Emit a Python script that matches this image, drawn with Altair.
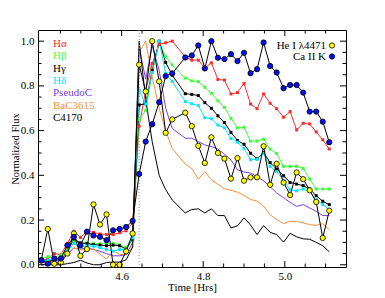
import altair as alt
import pandas as pd

# ---------------- data ----------------
times = [4.403, 4.419, 4.435, 4.451, 4.467, 4.483, 4.499, 4.515, 4.531, 4.547,
         4.563, 4.579, 4.595, 4.611, 4.627, 4.643, 4.659, 4.675, 4.692, 4.708,
         4.724, 4.756, 4.772, 4.788, 4.804, 4.820, 4.836, 4.852, 4.868, 4.884,
         4.900, 4.916, 4.932, 4.948, 4.964, 4.980, 4.997, 5.013, 5.029, 5.045,
         5.061, 5.077, 5.093, 5.109]

h_alpha = [0.020, 0.025, 0.050, 0.045, 0.095, 0.150, 0.122, 0.150, 0.145, 0.138, 0.135, 0.135, 0.143, 0.152, 0.185, 0.620, 0.780, 0.900, 0.985, 0.993, 1.000,
           0.930, 0.915, 0.915, 0.880, 0.903, 0.829, 0.826, 0.764, 0.770, 0.811, 0.719, 0.698, 0.764, 0.722, 0.698, 0.660, 0.685, 0.603, 0.633, 0.630, 0.594, 0.559, 0.518]
h_beta = [0.027, 0.036, 0.031, 0.045, 0.068, 0.107, 0.095, 0.098, 0.094, 0.094, 0.095, 0.096, 0.088, 0.078, 0.122, 0.650, 0.690, 0.860, 1.000, 0.930, 0.894,
          0.835, 0.823, 0.819, 0.794, 0.767, 0.733, 0.704, 0.655, 0.612, 0.615, 0.553, 0.553, 0.562, 0.517, 0.498, 0.440, 0.440, 0.440, 0.431, 0.383, 0.339, 0.339, 0.339]
h_gamma = [0.013, 0.018, 0.020, 0.024, 0.060, 0.115, 0.098, 0.095, 0.090, 0.088, 0.085, 0.088, 0.085, 0.070, 0.115, 0.715, 0.720, 0.870, 1.000, 0.905, 0.848,
           0.765, 0.762, 0.757, 0.725, 0.700, 0.666, 0.636, 0.592, 0.556, 0.539, 0.499, 0.474, 0.502, 0.457, 0.428, 0.398, 0.368, 0.361, 0.354, 0.339, 0.309, 0.284, 0.269]
h_delta = [0.015, 0.020, 0.025, 0.030, 0.060, 0.095, 0.080, 0.085, 0.083, 0.076, 0.068, 0.061, 0.068, 0.068, 0.120, 0.780, 0.720, 0.860, 1.000, 0.856, 0.820,
           0.730, 0.720, 0.712, 0.658, 0.653, 0.625, 0.612, 0.565, 0.548, 0.520, 0.470, 0.472, 0.499, 0.440, 0.417, 0.377, 0.336, 0.331, 0.339, 0.328, 0.291, 0.269, 0.247]
pseudo_c = [0.010, 0.010, 0.015, 0.020, 0.045, 0.075, 0.070, 0.076, 0.068, 0.060, 0.050, 0.040, 0.040, 0.045, 0.100, 0.970, 0.830, 0.980, 0.870, 0.700, 0.610,
            0.566, 0.566, 0.551, 0.536, 0.529, 0.517, 0.495, 0.469, 0.425, 0.415, 0.410, 0.395, 0.375, 0.350, 0.321, 0.300, 0.279, 0.261, 0.269, 0.254, 0.239, 0.220, 0.220]
bac3615 = [0.000, 0.005, 0.010, 0.015, 0.050, 0.075, 0.068, 0.064, 0.072, 0.048, 0.025, 0.064, 0.046, 0.046, 0.080, 0.950, 1.000, 0.840, 0.700, 0.600, 0.520,
           0.450, 0.430, 0.383, 0.417, 0.380, 0.360, 0.340, 0.333, 0.325, 0.310, 0.292, 0.285, 0.262, 0.224, 0.202, 0.184, 0.194, 0.194, 0.187, 0.180, 0.176, 0.184, 0.157]
c4170 = [0.000, 0.000, 0.000, 0.000, 0.005, 0.010, 0.020, 0.008, 0.000, 0.000, 0.010, 0.012, 0.012, 0.022, 0.080, 1.000, 0.740, 0.550, 0.400, 0.336, 0.290,
         0.232, 0.247, 0.250, 0.232, 0.250, 0.220, 0.220, 0.165, 0.174, 0.210, 0.178, 0.135, 0.175, 0.145, 0.135, 0.101, 0.141, 0.125, 0.116, 0.114, 0.100, 0.085, 0.058]
he_i_4471 = [0.020, 0.160, 0.005, 0.010, 0.050, 0.140, 0.040, 0.070, 0.270, 0.180, 0.225, 0.000, 0.000, 0.060, 0.140, 0.895, 0.775, 1.000, 0.820, 0.590, 0.650,
             0.680, 0.620, 0.532, 0.455, 0.570, 0.500, 0.475, 0.385, 0.477, 0.376, 0.391, 0.391, 0.530, 0.358, 0.452, 0.368, 0.312, 0.413, 0.383, 0.333, 0.281, 0.120, 0.242]
ca_ii_k = [0.020, 0.005, 0.028, 0.028, 0.087, 0.125, 0.087, 0.148, 0.131, 0.125, 0.110, 0.154, 0.160, 0.169, 0.196, 0.406, 0.551, 0.629, 0.727, 0.844, 0.856,
           0.927, 0.936, 0.981, 0.878, 1.000, 0.926, 0.920, 0.942, 0.911, 0.948, 0.857, 0.875, 0.994, 0.889, 0.860, 0.790, 0.804, 0.804, 0.770, 0.685, 0.685, 0.640, 0.548]

flare_onset = [4.643]

x_label_values = [4.6, 4.8, 5.0]
x_major_ticks = [4.6, 4.8, 5.0]
x_minor_ticks = [4.45, 4.5, 4.55, 4.65, 4.7, 4.75, 4.85, 4.9, 4.95, 5.05, 5.1]
y_major_ticks = [0.0, 0.2, 0.4, 0.6, 0.8, 1.0]
y_minor_ticks = [0.05, 0.1, 0.15, 0.25, 0.3, 0.35, 0.45, 0.5, 0.55, 0.65, 0.7,
                 0.75, 0.85, 0.9, 0.95]

line_names = ["C4170", "BaC3615", "PseudoC", "Hδ", "Hγ", "Hβ", "Hα"]
line_colors = ["#000000", "#ff8c3a", "#7a3ee6", "#00e8ff", "#000000", "#3cff3c", "#ff2a2a"]
legend_left = ["Hα", "Hβ", "Hγ", "Hδ", "PseudoC", "BaC3615", "C4170"]
legend_left_colors = ["#ff2a2a", "#3cff3c", "#000000", "#00e8ff", "#7a3ee6", "#ff8c3a", "#000000"]
dot_names = ["He I λ4471", "Ca II K"]
dot_colors = ["#ffff00", "#0010f0"]

# ---------------- build ----------------
W, H = 308, 237
FONT = "Liberation Serif"

series_values = {
    "Hα": h_alpha, "Hβ": h_beta, "Hγ": h_gamma, "Hδ": h_delta,
    "PseudoC": pseudo_c, "BaC3615": bac3615, "C4170": c4170,
    "He I λ4471": he_i_4471, "Ca II K": ca_ii_k,
}
rows = []
for name, vals in series_values.items():
    for t, v in zip(times, vals):
        rows.append({"series": name, "t": t, "flux": v})
df = pd.DataFrame(rows)

xs = alt.Scale(domain=[4.395, 5.15], nice=False, zero=False)
ys = alt.Scale(domain=[-0.01, 1.05], nice=False, zero=False)

x_axis = alt.Axis(values=x_label_values, format=".1f", ticks=False, tickSize=0,
                  domain=False, grid=False, labelFont=FONT, labelFontSize=11,
                  labelColor="black", labelPadding=3, title="Time [Hrs]",
                  titleFont=FONT, titleFontSize=11, titleFontWeight="normal",
                  titleColor="black", titlePadding=0)
y_axis = alt.Axis(values=y_major_ticks, format=".1f", ticks=False, tickSize=0,
                  domain=False, grid=False, labelFont=FONT, labelFontSize=11,
                  labelColor="black", labelPadding=4, title="Normalized Flux",
                  titleFont=FONT, titleFontSize=10.5, titleFontWeight="normal",
                  titleColor="black", titlePadding=0)


def X(field):
    return alt.X(field, scale=xs, axis=x_axis, title="Time [Hrs]")


def Y(field):
    return alt.Y(field, scale=ys, axis=y_axis, title="Normalized Flux")


base = alt.Chart(df)
color_scale = alt.Scale(domain=line_names, range=line_colors)

spec_lines = base.transform_filter(
    alt.FieldOneOfPredicate(field="series", oneOf=line_names)
).mark_line(strokeWidth=1).encode(
    x=X("t:Q"), y=Y("flux:Q"),
    color=alt.Color("series:N", scale=color_scale, legend=None),
    order="t:Q",
)

squares = base.transform_filter(
    alt.FieldOneOfPredicate(field="series", oneOf=["Hα", "Hβ", "Hγ", "Hδ"])
).mark_square(size=9, opacity=1).encode(
    x=X("t:Q"), y=Y("flux:Q"),
    color=alt.Color("series:N", scale=color_scale, legend=None),
)

dot_lines = base.transform_filter(
    alt.FieldOneOfPredicate(field="series", oneOf=dot_names)
).mark_line(strokeWidth=1, color="black").encode(
    x=X("t:Q"), y=Y("flux:Q"),
    detail="series:N",
    order="t:Q",
)

dots = base.transform_filter(
    alt.FieldOneOfPredicate(field="series", oneOf=dot_names)
).mark_point(shape="circle", filled=True, size=28, stroke="black",
             strokeWidth=0.8, opacity=1).encode(
    x=X("t:Q"), y=Y("flux:Q"),
    fill=alt.Fill("series:N", scale=alt.Scale(domain=dot_names, range=dot_colors),
                  legend=None),
)

onset = alt.Chart(pd.DataFrame({"t": flare_onset})).mark_rule(
    color="#9a9a9a", strokeDash=[1, 2], strokeWidth=1
).encode(x=X("t:Q"))

layers = [spec_lines, onset, squares, dot_lines, dots]


# inward ticks on all four sides
def xticks(vals, length):
    d = pd.DataFrame({"v": vals})
    bottom = alt.Chart(d).mark_rule(color="black", strokeWidth=1).encode(
        x=X("v:Q"), y=alt.value(H), y2=alt.value(H - length))
    top = alt.Chart(d).mark_rule(color="black", strokeWidth=1).encode(
        x=X("v:Q"), y=alt.value(0), y2=alt.value(length))
    return [bottom, top]


def yticks(vals, length):
    d = pd.DataFrame({"v": vals})
    left = alt.Chart(d).mark_rule(color="black", strokeWidth=1).encode(
        y=Y("v:Q"), x=alt.value(0), x2=alt.value(length))
    right = alt.Chart(d).mark_rule(color="black", strokeWidth=1).encode(
        y=Y("v:Q"), x=alt.value(W), x2=alt.value(W - length))
    return [left, right]


layers += xticks(x_major_ticks, 6) + xticks(x_minor_ticks, 3.5)
layers += yticks(y_major_ticks, 6) + yticks(y_minor_ticks, 3.5)

# left legend (coloured labels)
for i, (lab, col) in enumerate(zip(legend_left, legend_left_colors)):
    layers.append(
        alt.Chart(pd.DataFrame({"label": [lab]})).mark_text(
            align="left", baseline="middle", font=FONT, fontSize=11, color=col
        ).encode(text="label:N", x=alt.value(15), y=alt.value(14 + 12.3 * i))
    )

# right legend (symbols)
for i, (lab, col) in enumerate(zip(dot_names, dot_colors)):
    yy = 15.5 + 11 * i
    layers.append(
        alt.Chart(pd.DataFrame({"label": [lab]})).mark_text(
            align="right", baseline="middle", font=FONT, fontSize=11, color="black"
        ).encode(text="label:N", x=alt.value(288), y=alt.value(yy))
    )
    layers.append(
        alt.Chart(pd.DataFrame({"label": [lab]})).mark_point(
            shape="circle", filled=True, size=28, fill=col, stroke="black",
            strokeWidth=0.8, opacity=1
        ).encode(x=alt.value(294), y=alt.value(yy))
    )

chart = alt.layer(*layers).properties(
    width=W, height=H,
    autosize=alt.AutoSizeParams(type="none"),
    padding={"left": 30, "top": 22, "right": 30, "bottom": 30},
    background="white",
).configure_view(stroke="black", strokeWidth=1)

chart.save("out.html", embed_options={"renderer": "svg", "actions": False})
